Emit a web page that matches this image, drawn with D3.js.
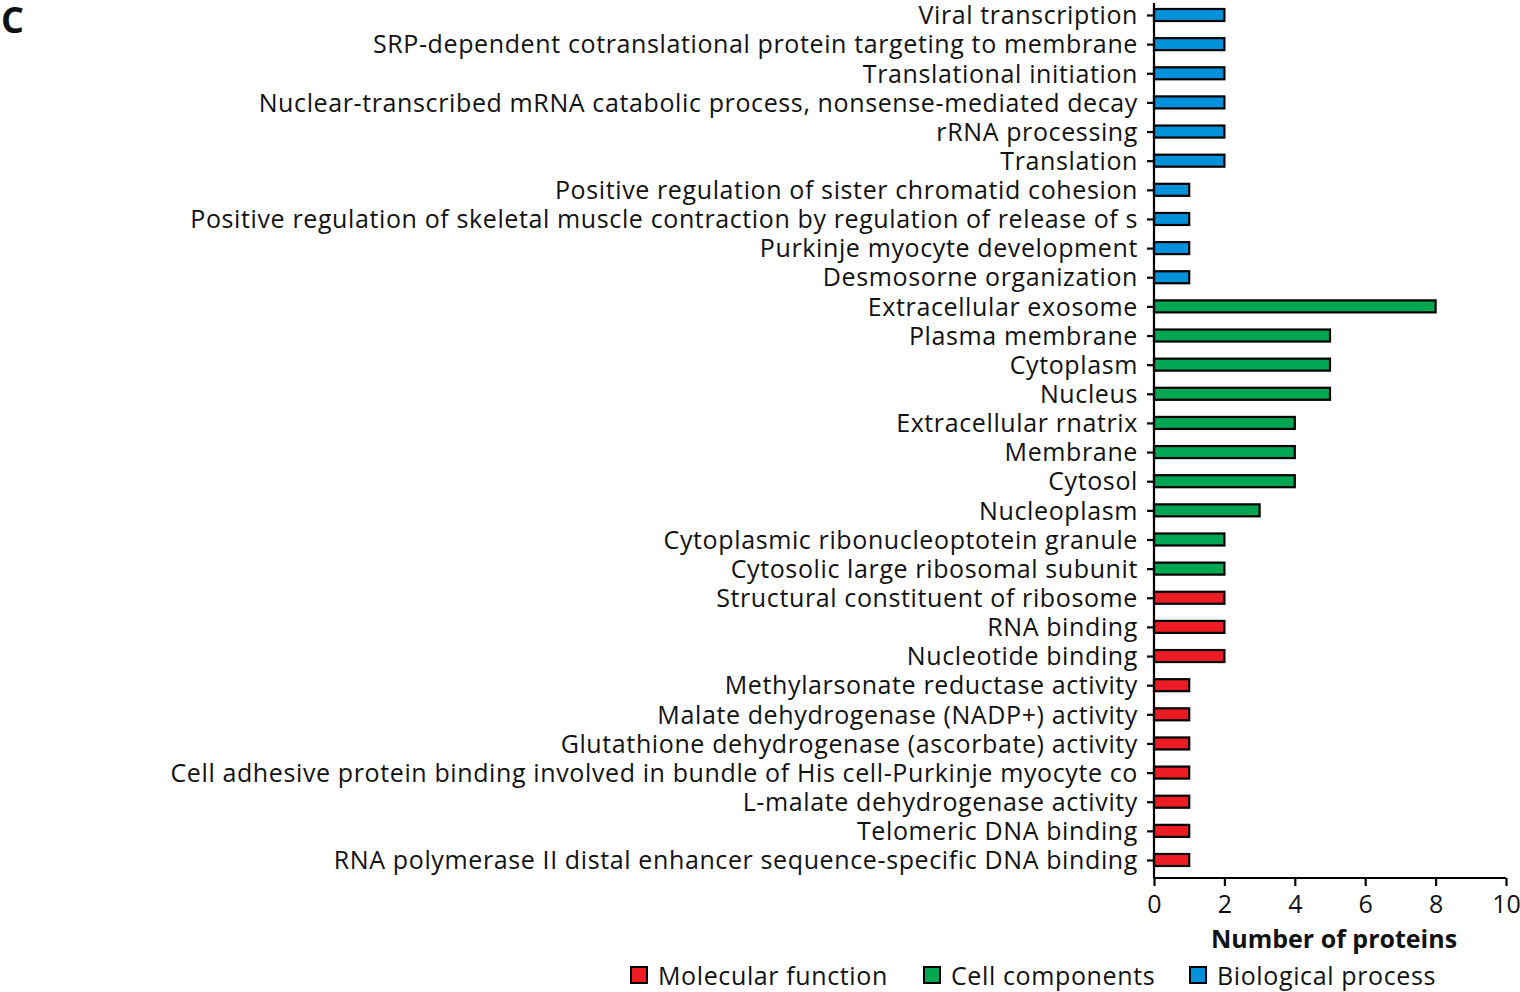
<!DOCTYPE html>
<html><head><meta charset="utf-8">
<script src="https://cdn.jsdelivr.net/npm/d3@7"></script>
<style>body{margin:0;background:#fff}svg{display:block}text{font-family:"Open Sans",Lato,sans-serif;fill:#111}</style>
</head><body>
<svg id="c" width="1520" height="992"></svg>
<script>
const categories = [
"Viral transcription","SRP-dependent cotranslational protein targeting to membrane","Translational initiation",
"Nuclear-transcribed mRNA catabolic process, nonsense-mediated decay","rRNA processing","Translation",
"Positive regulation of sister chromatid cohesion","Positive regulation of skeletal muscle contraction by regulation of release of s",
"Purkinje myocyte development","Desmosorne organization","Extracellular exosome","Plasma membrane","Cytoplasm","Nucleus",
"Extracellular rnatrix","Membrane","Cytosol","Nucleoplasm","Cytoplasmic ribonucleoptotein granule","Cytosolic large ribosomal subunit",
"Structural constituent of ribosome","RNA binding","Nucleotide binding","Methylarsonate reductase activity",
"Malate dehydrogenase (NADP+) activity","Glutathione dehydrogenase (ascorbate) activity",
"Cell adhesive protein binding involved in bundle of His cell-Purkinje myocyte co","L-malate dehydrogenase activity",
"Telomeric DNA binding","RNA polymerase II distal enhancer sequence-specific DNA binding"];
const values = [2,2,2,2,2,2,1,1,1,1,8,5,5,5,4,4,4,3,2,2,2,2,2,1,1,1,1,1,1,1];
const groups = ["BP","BP","BP","BP","BP","BP","BP","BP","BP","BP","CC","CC","CC","CC","CC","CC","CC","CC","CC","CC","MF","MF","MF","MF","MF","MF","MF","MF","MF","MF"];
const legendKeys = ["MF","CC","BP"];
const legendLabels = ["Molecular function","Cell components","Biological process"];
const colors = {MF:"#ed1c24", CC:"#00a651", BP:"#0091da"};
const xTicks = [0,2,4,6,8,10];
const xTitle = "Number of proteins";
const panel = "C";

const svg = d3.select("#c");
const x = d3.scaleLinear().domain([0,10]).range([1154,1506]);
const y = d3.scalePoint().domain(categories).range([15,860]);
const axisBottomY = 878, axisTopY = 3;

svg.append("g").selectAll("rect").data(categories).join("rect")
  .attr("x", x(0)).attr("y", d=>y(d)-6)
  .attr("width", (d,i)=>x(values[i])-x(0)).attr("height", 12)
  .attr("fill",(d,i)=>colors[groups[i]]).attr("stroke","#000").attr("stroke-width",2.2);

const ya = svg.append("g").attr("transform",`translate(${x(0)},0)`)
  .call(d3.axisLeft(y).tickSize(7).tickPadding(9));
ya.select(".domain").remove();
ya.append("line").attr("x1",0).attr("x2",0).attr("y1",axisTopY).attr("y2",axisBottomY).attr("stroke","#000").attr("stroke-width",2.2);
ya.selectAll(".tick line").attr("stroke","#000").attr("stroke-width",2.2);
ya.selectAll(".tick text").style("font-size","25px").style("letter-spacing","0.62px").style("font-family","'Open Sans'").attr("fill","#111").attr("dy","0.35em");

const xa = svg.append("g").attr("transform",`translate(0,${axisBottomY})`)
  .call(d3.axisBottom(x).tickValues(xTicks).tickSize(8).tickPadding(9).tickFormat(d3.format("d")));
xa.select(".domain").attr("stroke","#000").attr("stroke-width",2.2).attr("d",`M${x(0)},0H${x(10)}`);
xa.selectAll(".tick line").attr("stroke","#000").attr("stroke-width",2.2);
xa.selectAll(".tick text").style("font-size","25px").style("font-family","'Open Sans'").attr("fill","#111");

svg.append("text").attr("x",1334).attr("y",948).attr("text-anchor","middle")
  .style("font-size","25px").style("font-weight","bold").text(xTitle);

const lx = [631, 924, 1190];
const lg = svg.append("g");
legendKeys.forEach((k,i)=>{
  lg.append("rect").attr("x",lx[i]).attr("y",967).attr("width",16).attr("height",16)
    .attr("fill",colors[k]).attr("stroke","#000").attr("stroke-width",2);
  lg.append("text").attr("x",lx[i]+27).attr("y",985).style("font-size","25px").style("letter-spacing","0.62px").text(legendLabels[i]);
});

svg.append("text").attr("x",1).attr("y",33).style("font-size","36px").style("font-weight","bold").text(panel);
</script>
</body></html>
